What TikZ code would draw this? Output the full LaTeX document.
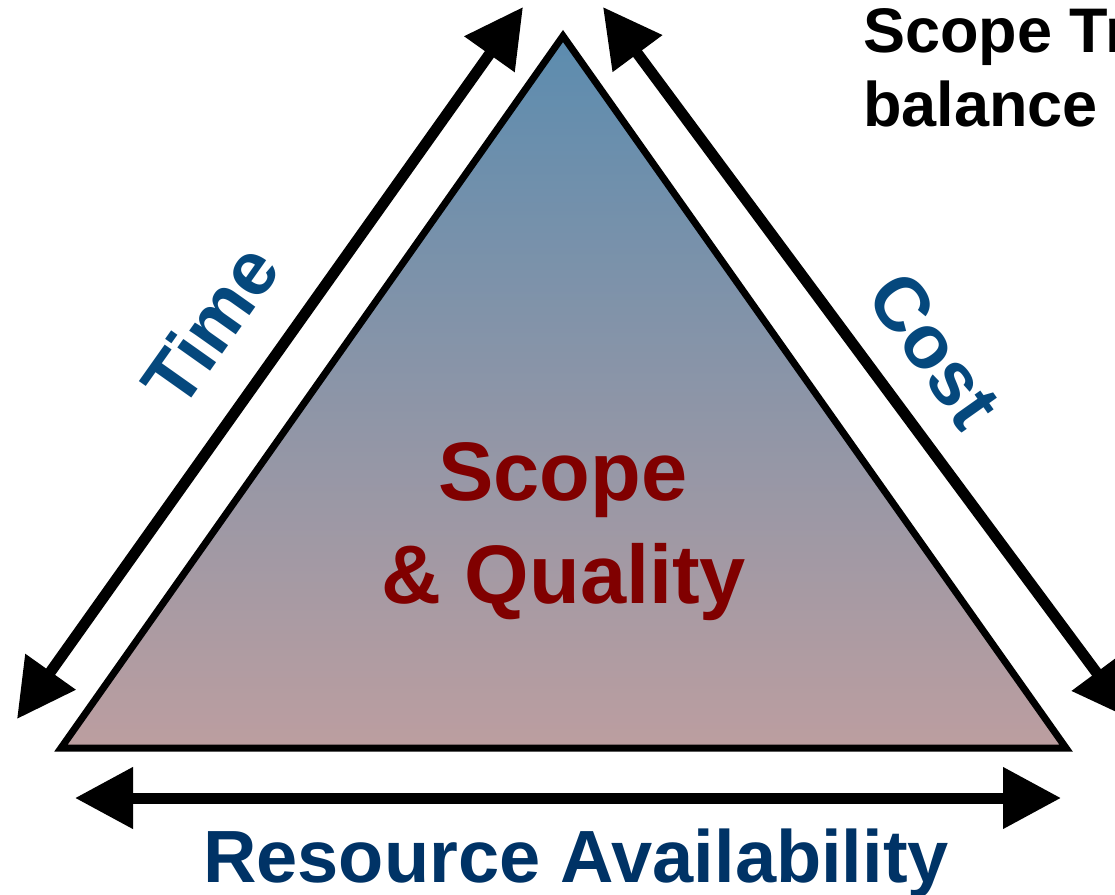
\documentclass[tikz,border=0pt]{standalone}
\usepackage{fontspec}
\setmainfont{Liberation Sans}
\usetikzlibrary{arrows.meta}
\usetikzlibrary{positioning}

\definecolor{scopetop}{RGB}{92,140,175}
\definecolor{scopebottom}{RGB}{188,158,160}
\definecolor{sideblue}{RGB}{5,72,125}
\definecolor{resnavy}{RGB}{0,51,102}
\definecolor{scopered}{RGB}{128,0,0}

\begin{document}
\begin{tikzpicture}[x=0.5pt, y=-0.5pt, every node/.style={inner sep=0pt},
  tri/.style={draw=black, line width=3.5pt, line join=miter, top color=scopetop, bottom color=scopebottom},
  dir/.style={line width=5.5pt, {Triangle[length=29pt,width=29.5pt]}-{Triangle[length=29pt,width=29.5pt]}},
  sidelabel/.style={text=sideblue, font=\fontsize{38}{40}\selectfont\bfseries},
  centrelabel/.style={anchor=base, text=scopered, font=\fontsize{41.5}{48}\selectfont\bfseries}]

\useasboundingbox (0,0) rectangle (1115,895);

\coordinate (apex) at (563,36);
\coordinate (bl) at (61,748);
\coordinate (br) at (1066,748);
\path[tri] (apex) -- (bl) -- (br) -- cycle;

\coordinate (t1) at (17,719);
\coordinate (t2) at (523,7);
\coordinate (c1) at (603,7);
\coordinate (c2) at (1131,719);
\coordinate (r1) at (75,798);
\coordinate (r2) at (1061,798);

\draw[dir] (t1) -- (t2);
\draw[dir] (c1) -- (c2);
\draw[dir] (r1) -- (r2);

\node[centrelabel] (scope) at (563,500) {Scope};
\node[centrelabel] (quality) at (564,603) {\& Quality};

\node[sidelabel, rotate=54.7] (time) at (210,325) {Time};
\node[sidelabel, rotate=-54.7] (cost) at (935,350) {Cost};

\node[anchor=base, text=resnavy, font=\fontsize{37}{40}\selectfont\bfseries] (resource) at (576,882) {Resource Availability};

\node[anchor=base west, font=\fontsize{31.5}{36}\selectfont\bfseries] (title) at (863,52) {Scope Tr};
\node[anchor=base west, font=\fontsize{31.5}{36}\selectfont\bfseries] (balance) at (863,126) {balance};
\end{tikzpicture}
\end{document}
